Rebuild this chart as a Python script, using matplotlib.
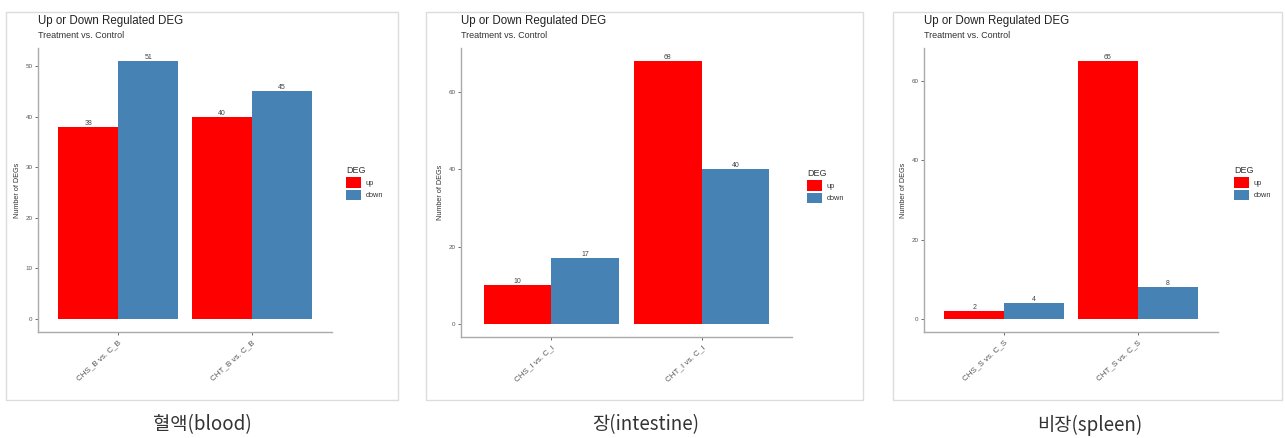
import matplotlib
matplotlib.use("Agg")
import matplotlib.pyplot as plt
from matplotlib.patches import Rectangle

plt.rcParams['font.family'] = ['Liberation Sans', 'DejaVu Sans']

# data
blood_groups = ["CHS_B vs. C_B", "CHT_B vs. C_B"]
blood_up = [38, 40]
blood_down = [51, 45]

intestine_groups = ["CHS_I vs. C_I", "CHT_I vs. C_I"]
intestine_up = [10, 68]
intestine_down = [17, 40]

spleen_groups = ["CHS_S vs. C_S", "CHT_S vs. C_S"]
spleen_up = [2, 65]
spleen_down = [4, 8]

blood_ticks = [0, 10, 20, 30, 40, 50]
intestine_ticks = [0, 20, 40, 60]
spleen_ticks = [0, 20, 40, 60]

captions = ["혈액(blood)", "장(intestine)", "비장(spleen)"]

UP_COLOR = "#FF0000"
DOWN_COLOR = "#4682B4"
W, H = 1285, 438

fig = plt.figure(figsize=(W / 100, H / 100), dpi=100)


def px_rect(x0, y0, x1, y1):
    return [x0 / W, (H - y1) / H, (x1 - x0) / W, (y1 - y0) / H]


def panel(box, axbox, legend_xy, caption_x, caption, groups, up, down, ticks):
    bx0, by0, bx1, by1 = box
    fig.patches.append(Rectangle((bx0 / W, (H - by1) / H), (bx1 - bx0) / W, (by1 - by0) / H,
                                 transform=fig.transFigure, fill=False,
                                 edgecolor="#DCDCDC", linewidth=1.0))
    ax = fig.add_axes(px_rect(*axbox))
    pos = list(range(1, len(groups) + 1))
    w = 0.45
    b_up = ax.bar([p - w / 2 for p in pos], up, width=w, color=UP_COLOR, label="up")
    b_down = ax.bar([p + w / 2 for p in pos], down, width=w, color=DOWN_COLOR, label="down")
    for bars, vals in ((b_up, up), (b_down, down)):
        for rect, v in zip(bars, vals):
            ax.text(rect.get_x() + rect.get_width() / 2, v, str(v), ha="center", va="bottom",
                    fontsize=5, color="#444444")
    top = max(up + down)
    ax.set_ylim(-0.05 * top, 1.05 * top)
    ax.set_xlim(0.4, len(groups) + 0.6)
    ax.set_yticks(ticks)
    ax.set_yticklabels([str(t) for t in ticks])
    ax.set_xticks(pos)
    ax.set_xticklabels(groups, rotation=42, ha="right", rotation_mode="anchor")
    ax.tick_params(axis="y", labelsize=4.5, colors="#555555", length=2, width=0.6, pad=2)
    ax.tick_params(axis="x", labelsize=5.8, colors="#555555", length=2, width=0.6, pad=3)
    for s in ("top", "right"):
        ax.spines[s].set_visible(False)
    for s in ("left", "bottom"):
        ax.spines[s].set_color("#AAAAAA")
        ax.spines[s].set_linewidth(1.0)
    ax.set_ylabel("Number of DEGs", fontsize=5.2, color="#333333", labelpad=3)
    ax.set_facecolor("white")

    x0 = axbox[0]
    fig.text(x0 / W, 1 - 21 / H, "Up or Down Regulated DEG", fontsize=8.3, color="#222222",
             va="center", ha="left")
    fig.text(x0 / W, 1 - 36 / H, "Treatment vs. Control", fontsize=6.5, color="#333333",
             va="center", ha="left")

    lx, ly = legend_xy
    leg = ax.legend(handles=[b_up, b_down], title="DEG", loc="upper left",
                    bbox_to_anchor=(lx / W, 1 - ly / H), bbox_transform=fig.transFigure,
                    frameon=False, fontsize=5.3, title_fontsize=6.5, handlelength=2.1,
                    handleheight=1.8, labelspacing=0.3, borderpad=0, borderaxespad=0,
                    handletextpad=0.6)
    leg._legend_box.align = "left"
    leg.get_title().set_color("#333333")
    for t in leg.get_texts():
        t.set_color("#333333")

    fig.text(caption_x / W, 1 - 425 / H, caption, fontsize=13.5, color="#333333",
             ha="center", va="center", family=["Noto Sans CJK KR", "DejaVu Sans"])
    return ax


panel((6, 12, 398, 400), (38, 48, 332, 332), (346, 166), 202, captions[0],
      blood_groups, blood_up, blood_down, blood_ticks)
panel((426, 12, 863, 400), (461, 48, 792, 337), (807, 169), 646, captions[1],
      intestine_groups, intestine_up, intestine_down, intestine_ticks)
panel((893, 12, 1282, 400), (924, 48, 1218, 332), (1234, 166), 1090, captions[2],
      spleen_groups, spleen_up, spleen_down, spleen_ticks)

fig.savefig("out.png", dpi=100, facecolor="white")
